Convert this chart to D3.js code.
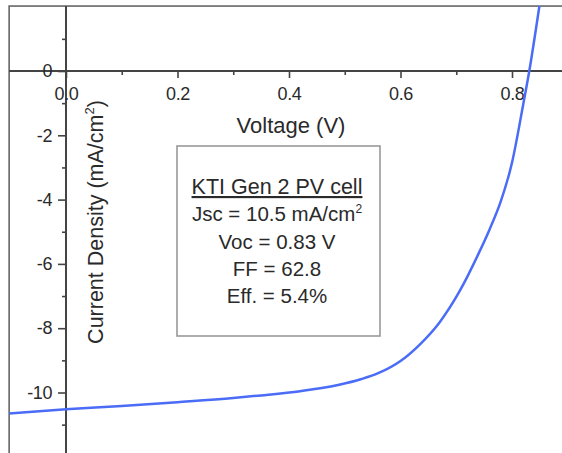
<!DOCTYPE html>
<html>
<head>
<meta charset="utf-8">
<script src="https://cdn.jsdelivr.net/npm/d3@7.9.0/dist/d3.min.js"></script>
<style>
  body { margin: 0; background: #fff; }
  svg { display: block; font-family: "Liberation Sans", Arial, sans-serif; }
  .tick text { fill: #2a2a2a; font-size: 18px; letter-spacing: -0.4px; }
  .tick line { stroke: #444; stroke-width: 1.6; }
</style>
</head>
<body>
<svg id="chart" width="562" height="453"></svg>
<script>
// J-V curve
const voltage = [-0.102, 0, 0.1, 0.2, 0.3, 0.35, 0.42, 0.49, 0.53, 0.56, 0.6, 0.635, 0.67, 0.705, 0.74, 0.76, 0.78, 0.8, 0.82, 0.831, 0.849, 0.856];
const current = [-10.65, -10.52, -10.42, -10.30, -10.17, -10.09, -9.96, -9.76, -9.58, -9.4, -9.02, -8.5, -7.82, -6.88, -5.68, -4.92, -4.05, -2.85, -1.05, 0, 2.0, 2.8];

const xMajor = [0, 0.2, 0.4, 0.6, 0.8];
const xMinor = [0.1, 0.3, 0.5, 0.7];
const yMajor = [0, -2, -4, -6, -8, -10];
const yMinor = [1, -1, -3, -5, -7, -9, -11];

const infoTitle = "KTI Gen 2 PV cell";
const infoLines = ["Voc = 0.83 V", "FF = 62.8", "Eff. = 5.4%"];

const svg = d3.select('#chart');

const x = d3.scaleLinear().domain([0, 0.8]).range([66, 512]);
const y = d3.scaleLinear().domain([0, -10]).range([71, 392.5]);

// frame (runs off the right and bottom edges)
const fx0 = x(-0.102), fx1 = x(0.95), fy0 = y(2.02), fy1 = y(-13);
svg.append('clipPath').attr('id', 'clip')
  .append('rect').attr('x', fx0).attr('y', fy0).attr('width', fx1 - fx0).attr('height', fy1 - fy0);

svg.append('rect')
  .attr('x', fx0).attr('y', fy0).attr('width', fx1 - fx0).attr('height', fy1 - fy0)
  .attr('fill', 'none').attr('stroke', '#666').attr('stroke-width', 1.6);

// axis lines through the origin
svg.append('line').attr('x1', fx0).attr('x2', fx1).attr('y1', y(0)).attr('y2', y(0))
  .attr('stroke', '#444').attr('stroke-width', 2);
svg.append('line').attr('x1', x(0)).attr('x2', x(0)).attr('y1', fy0).attr('y2', fy1)
  .attr('stroke', '#444').attr('stroke-width', 2);

// x ticks
const gx = svg.append('g').attr('transform', `translate(0,${y(0)})`);
gx.append('g').call(d3.axisBottom(x).tickValues(xMajor).tickSize(7).tickPadding(9).tickFormat(d3.format('.1f')));
gx.append('g').call(d3.axisBottom(x).tickValues(xMinor).tickSize(4).tickFormat(''));

// y ticks (plain hyphen for the minus sign)
const gy = svg.append('g').attr('transform', `translate(${x(0)},0)`);
gy.append('g').call(d3.axisLeft(y).tickValues(yMajor).tickSize(8).tickPadding(6).tickFormat(d => String(d)));
gy.append('g').call(d3.axisLeft(y).tickValues(yMinor).tickSize(4).tickFormat(''));
svg.selectAll('.domain').remove();

// axis titles
svg.append('text').attr('x', 291).attr('y', 133).attr('text-anchor', 'middle')
  .attr('fill', '#2a2a2a').attr('font-size', 22).text('Voltage (V)');

const yl = svg.append('text').attr('transform', 'translate(103,222) rotate(-90)')
  .attr('text-anchor', 'middle').attr('fill', '#2a2a2a').attr('font-size', 21.5);
yl.append('tspan').text('Current Density (mA/cm');
yl.append('tspan').attr('font-size', 13).attr('dy', -9).text('2');
yl.append('tspan').attr('dy', 9).text(')');

// curve
const line = d3.line().x((d, i) => x(voltage[i])).y(d => y(d)).curve(d3.curveMonotoneX);
svg.append('path').datum(current)
  .attr('clip-path', 'url(#clip)')
  .attr('d', line)
  .attr('fill', 'none').attr('stroke', '#4a6cf7').attr('stroke-width', 2.5);

// info box
svg.append('rect').attr('x', 177).attr('y', 146).attr('width', 203).attr('height', 190)
  .attr('fill', '#fff').attr('stroke', '#999').attr('stroke-width', 1.6);

const cx = 277;
svg.append('text').attr('x', cx).attr('y', 194).attr('text-anchor', 'middle')
  .attr('fill', '#2a2a2a').attr('font-size', 21.5)
  .attr('text-decoration', 'underline').text(infoTitle);

const jsc = svg.append('text').attr('x', cx).attr('y', 221).attr('text-anchor', 'middle')
  .attr('fill', '#2a2a2a').attr('font-size', 20.5);
jsc.append('tspan').text('Jsc = 10.5 mA/cm');
jsc.append('tspan').attr('font-size', 12).attr('dy', -8).text('2');

infoLines.forEach((t, i) => {
  svg.append('text').attr('x', cx).attr('y', 249 + i * 27).attr('text-anchor', 'middle')
    .attr('fill', '#2a2a2a').attr('font-size', 20.5).text(t);
});
</script>
</body>
</html>
